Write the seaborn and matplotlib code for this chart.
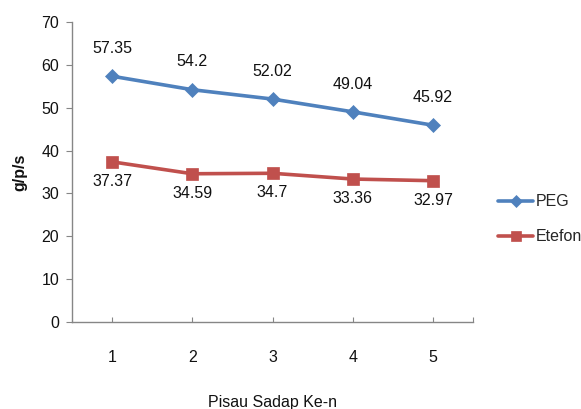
import matplotlib
matplotlib.use("Agg")
import matplotlib.pyplot as plt
import seaborn as sns
import pandas as pd

# Data: g/p/s per tapping knife index for two treatments
pisau = [1, 2, 3, 4, 5]
peg = [57.35, 54.20, 52.02, 49.04, 45.92]
etefon = [37.37, 34.59, 34.70, 33.36, 32.97]
y_ticks = [0, 10, 20, 30, 40, 50, 60, 70]

sns.set_style("white")
plt.rcParams["font.family"] = ["Liberation Sans", "DejaVu Sans"]
FS = 11.5

df_peg = pd.DataFrame({"pisau": pisau, "nilai": peg})
df_et = pd.DataFrame({"pisau": pisau, "nilai": etefon})

blue = "#4F81BD"
red = "#C0504D"
axis_gray = "#868686"
text_col = "#111111"

fig = plt.figure(figsize=(5.81, 4.09), dpi=100)
ax = fig.add_axes([72 / 581, 87 / 409, 401 / 581, 300 / 409])

sns.lineplot(data=df_peg, x="pisau", y="nilai", ax=ax, color=blue, marker="D",
             markersize=7.5, markeredgecolor=blue, markeredgewidth=0.5,
             linewidth=2.6, label="PEG")
sns.lineplot(data=df_et, x="pisau", y="nilai", ax=ax, color=red, marker="s",
             markersize=9, markeredgecolor=red, markeredgewidth=0.5,
             linewidth=2.6, label="Etefon")

# value labels: above the PEG points, below the Etefon points
for x, v in zip(pisau, peg):
    ax.annotate(f"{v:g}", (x, v), xytext=(0, 20), textcoords="offset points",
                ha="center", va="center", fontsize=FS, color=text_col)
for x, v in zip(pisau, etefon):
    ax.annotate(f"{v:g}", (x, v), xytext=(0, -14), textcoords="offset points",
                ha="center", va="center", fontsize=FS, color=text_col)

ax.set_xlim(0.5, 5.5)
ax.set_ylim(0, 70)
ax.set_yticks(y_ticks)
ax.set_xticks(pisau)
ax.set_xticks([5.5], minor=True)

for side in ("top", "right"):
    ax.spines[side].set_visible(False)
for side in ("left", "bottom"):
    ax.spines[side].set_color(axis_gray)
    ax.spines[side].set_linewidth(1.0)

ax.tick_params(axis="y", which="major", direction="out", length=4.3, width=0.8,
               color=axis_gray, pad=5, labelsize=FS, labelcolor=text_col, left=True)
ax.tick_params(axis="x", which="both", direction="in", length=3.6, width=0.8,
               color=axis_gray, pad=20, labelsize=FS, labelcolor=text_col, bottom=True)

ax.set_ylabel("g/p/s", fontsize=FS, fontweight="bold", color=text_col)
ax.yaxis.set_label_coords(-0.112, 0.5)
ax.set_xlabel("Pisau Sadap Ke-n", fontsize=FS, color=text_col)
ax.xaxis.set_label_coords(0.5, -0.245)

ax.legend(loc="upper left", bbox_to_anchor=(498 / 581, 0.525),
          bbox_transform=fig.transFigure, frameon=False, fontsize=FS,
          handlelength=2.2, handletextpad=0.15, borderpad=0, borderaxespad=0,
          labelspacing=1.25, markerscale=0.8)

fig.savefig("out.png", dpi=100)
